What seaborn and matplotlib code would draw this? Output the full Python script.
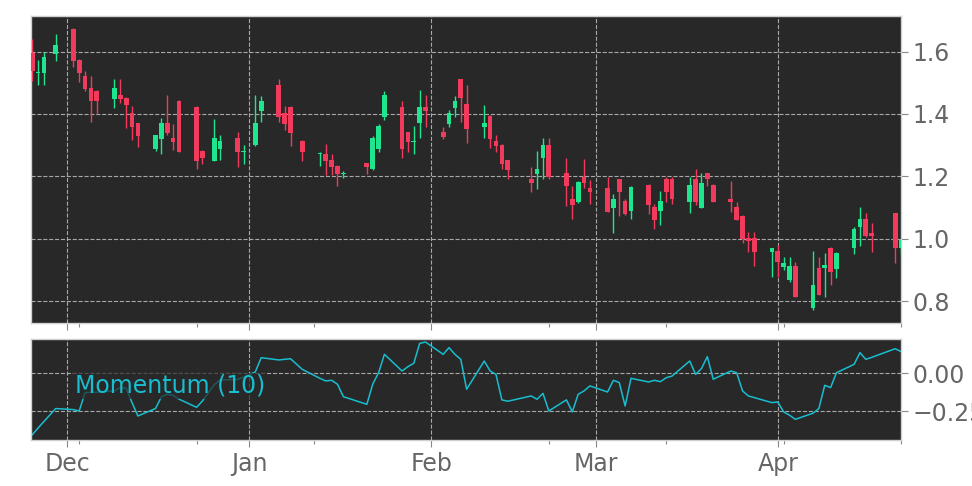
import matplotlib
matplotlib.use('Agg')
import matplotlib.pyplot as plt
import matplotlib.dates as mdates
import pandas as pd
import seaborn as sns

# trading days shown on the chart
dates = ['2013-11-25', '2013-11-26', '2013-11-27', '2013-11-29',
         '2013-12-02', '2013-12-03', '2013-12-04', '2013-12-05', '2013-12-06',
         '2013-12-09', '2013-12-10', '2013-12-11', '2013-12-12', '2013-12-13',
         '2013-12-16', '2013-12-17', '2013-12-18', '2013-12-19', '2013-12-20',
         '2013-12-23', '2013-12-24', '2013-12-26', '2013-12-27', '2013-12-30',
         '2013-12-31', '2014-01-02', '2014-01-03', '2014-01-06', '2014-01-07',
         '2014-01-08', '2014-01-10', '2014-01-13', '2014-01-14', '2014-01-15',
         '2014-01-16', '2014-01-17', '2014-01-21', '2014-01-22', '2014-01-23',
         '2014-01-24', '2014-01-27', '2014-01-28', '2014-01-29', '2014-01-30',
         '2014-01-31', '2014-02-03', '2014-02-04', '2014-02-05', '2014-02-06',
         '2014-02-07', '2014-02-10', '2014-02-11', '2014-02-12', '2014-02-13',
         '2014-02-14', '2014-02-18', '2014-02-19', '2014-02-20', '2014-02-21',
         '2014-02-24', '2014-02-25', '2014-02-26', '2014-02-27', '2014-02-28',
         '2014-03-03', '2014-03-04', '2014-03-05', '2014-03-06', '2014-03-07',
         '2014-03-10', '2014-03-11', '2014-03-12', '2014-03-13', '2014-03-14',
         '2014-03-17', '2014-03-18', '2014-03-19', '2014-03-20', '2014-03-21',
         '2014-03-24', '2014-03-25', '2014-03-26', '2014-03-27', '2014-03-28',
         '2014-03-31', '2014-04-01', '2014-04-02', '2014-04-03', '2014-04-04',
         '2014-04-07', '2014-04-08', '2014-04-09', '2014-04-10', '2014-04-11',
         '2014-04-14', '2014-04-15', '2014-04-16', '2014-04-17', '2014-04-21',
         '2014-04-22']

opens = [1.595, 1.530, 1.530, 1.591,
         1.673, 1.573, 1.523, 1.482, 1.475,
         1.448, 1.461, 1.451, 1.402, 1.370,
         1.287, 1.320, 1.371, 1.324, 1.443,
         1.422, 1.281, 1.249, 1.289, 1.324,
         1.279, 1.300, 1.411, 1.493, 1.402,
         1.422, 1.313, 1.271, 1.272, 1.251,
         1.233, 1.209, 1.242, 1.222, 1.289,
         1.391, 1.422, 1.341, 1.311, 1.370,
         1.422, 1.343, 1.368, 1.420, 1.511,
         1.431, 1.359, 1.394, 1.313, 1.301,
         1.252, 1.191, 1.207, 1.260, 1.301,
         1.210, 1.129, 1.119, 1.199, 1.162,
         1.162, 1.099, 1.190, 1.121, 1.089,
         1.172, 1.103, 1.089, 1.191, 1.191,
         1.119, 1.190, 1.099, 1.210, 1.172,
         1.129, 1.103, 1.073, 1.001, 1.001,
         0.958, 0.961, 0.908, 0.867, 0.912,
         0.779, 0.905, 0.905, 0.969, 0.902,
         0.969, 1.038, 1.062, 1.020, 1.081,
         0.969]

highs = [1.640, 1.573, 1.600, 1.657,
         1.675, 1.575, 1.539, 1.522, 1.477,
         1.511, 1.511, 1.453, 1.424, 1.372,
         1.333, 1.386, 1.461, 1.367, 1.445,
         1.424, 1.283, 1.383, 1.333, 1.343,
         1.300, 1.461, 1.458, 1.511, 1.424,
         1.424, 1.315, 1.279, 1.303, 1.272,
         1.235, 1.218, 1.244, 1.329, 1.368,
         1.474, 1.442, 1.343, 1.361, 1.477,
         1.461, 1.359, 1.413, 1.458, 1.513,
         1.493, 1.429, 1.396, 1.333, 1.303,
         1.254, 1.231, 1.281, 1.322, 1.322,
         1.258, 1.169, 1.186, 1.255, 1.188,
         1.199, 1.145, 1.192, 1.129, 1.170,
         1.174, 1.110, 1.153, 1.199, 1.199,
         1.199, 1.222, 1.210, 1.212, 1.174,
         1.185, 1.119, 1.075, 1.022, 1.022,
         0.970, 0.980, 0.942, 0.940, 0.926,
         0.961, 0.940, 0.953, 0.972, 0.958,
         1.038, 1.101, 1.081, 1.049, 1.083,
         1.001]

lows = [1.507, 1.493, 1.493, 1.571,
        1.552, 1.501, 1.472, 1.375, 1.402,
        1.420, 1.436, 1.356, 1.317, 1.295,
        1.281, 1.271, 1.333, 1.284, 1.277,
        1.222, 1.240, 1.249, 1.252, 1.231,
        1.239, 1.297, 1.375, 1.375, 1.349,
        1.297, 1.250, 1.234, 1.204, 1.204,
        1.170, 1.194, 1.207, 1.220, 1.279,
        1.381, 1.260, 1.279, 1.271, 1.322,
        1.359, 1.319, 1.359, 1.391, 1.375,
        1.308, 1.322, 1.290, 1.279, 1.222,
        1.190, 1.151, 1.159, 1.190, 1.190,
        1.105, 1.062, 1.116, 1.162, 1.111,
        1.087, 1.019, 1.073, 1.076, 1.062,
        1.079, 1.030, 1.044, 1.119, 1.110,
        1.081, 1.108, 1.099, 1.170, 1.117,
        1.087, 1.060, 0.985, 0.958, 0.912,
        0.876, 0.878, 0.900, 0.862, 0.812,
        0.773, 0.819, 0.812, 0.851, 0.873,
        0.950, 0.976, 1.006, 0.958, 0.921,
        0.950]

closes = [1.538, 1.533, 1.584, 1.621,
          1.571, 1.530, 1.480, 1.440, 1.440,
          1.482, 1.447, 1.429, 1.359, 1.329,
          1.333, 1.371, 1.338, 1.311, 1.277,
          1.249, 1.260, 1.324, 1.313, 1.277,
          1.281, 1.371, 1.442, 1.391, 1.368,
          1.340, 1.279, 1.273, 1.250, 1.230,
          1.207, 1.211, 1.231, 1.322, 1.361,
          1.461, 1.289, 1.311, 1.313, 1.421,
          1.411, 1.327, 1.402, 1.443, 1.450,
          1.351, 1.370, 1.320, 1.298, 1.240,
          1.220, 1.180, 1.222, 1.301, 1.199,
          1.170, 1.108, 1.183, 1.180, 1.151,
          1.087, 1.129, 1.151, 1.079, 1.167,
          1.108, 1.060, 1.121, 1.151, 1.129,
          1.172, 1.119, 1.180, 1.190, 1.119,
          1.119, 1.060, 0.998, 0.994, 0.958,
          0.969, 0.926, 0.921, 0.912, 0.812,
          0.851, 0.819, 0.916, 0.894, 0.955,
          1.030, 1.062, 1.009, 1.010, 0.969,
          0.996]

# Momentum (10)
momentum = [-0.405, -0.360, -0.317, -0.232,
            -0.239, -0.248, -0.127, -0.125, -0.125,
            -0.115, -0.094, -0.099, -0.193, -0.281,
            -0.232, -0.155, -0.138, -0.145, -0.170,
            -0.224, -0.182, -0.075, -0.044, -0.040,
            -0.025, 0.009, 0.103, 0.088, 0.092,
            0.096, 0.026, -0.033, -0.050, -0.046,
            -0.072, -0.154, -0.204, -0.072, 0.004,
            0.125, 0.015, 0.044, 0.066, 0.197,
            0.206, 0.125, 0.169, 0.125, 0.092,
            -0.105, 0.081, 0.015, -0.007, -0.175,
            -0.184, -0.149, -0.171, -0.132, -0.248,
            -0.175, -0.254, -0.138, -0.116, -0.083,
            -0.123, -0.046, -0.061, -0.215, -0.033,
            -0.057, -0.046, -0.055, -0.029, -0.018,
            0.081, -0.007, 0.031, 0.110, -0.039,
            0.015, 0.004, -0.116, -0.149, -0.160,
            -0.193, -0.189, -0.254, -0.276, -0.303,
            -0.263, -0.232, -0.079, -0.094, 0.004,
            0.059, 0.136, 0.092, 0.105, 0.162,
            0.143]

minor_ticks = ['2013-12-03', '2013-12-23', '2014-01-12', '2014-02-21',
               '2014-03-13', '2014-04-02', '2014-04-22']

df = pd.DataFrame({'date': pd.to_datetime(dates), 'open': opens, 'high': highs,
                   'low': lows, 'close': closes, 'momentum': momentum})

UP = '#1de68e'
DOWN = '#f23a5c'
BG = '#282828'
LINE = '#17becf'
TXT = '#666666'
FS = 17

sns.set_style('white')
plt.rcParams['font.family'] = ['DejaVu Sans']

fig = plt.figure(figsize=(9.72, 4.86), dpi=100)
ax1 = fig.add_axes([0.0319, 0.3354, 0.8951, 0.6317])
ax2 = fig.add_axes([0.0319, 0.0947, 0.8951, 0.2078], sharex=ax1)

# candles: wicks then bodies
up = df['close'] >= df['open']
for mask, col in ((up, UP), (~up, DOWN)):
    d = df[mask]
    ax1.vlines(d['date'], d['low'], d['high'], color=col, linewidth=1, zorder=3)
    body = (d['close'] - d['open']).abs().clip(lower=0.003)
    ax1.bar(d['date'], body, bottom=d[['open', 'close']].min(axis=1),
            width=0.8, color=col, linewidth=0, zorder=4)

# momentum line
sns.lineplot(x='date', y='momentum', data=df, ax=ax2, color=LINE, linewidth=1.1)
ax2.text(0.05, 0.535, 'Momentum (10)', transform=ax2.transAxes, color=LINE,
         fontsize=FS, va='center', ha='left', zorder=5,
         bbox=dict(facecolor=BG, alpha=0.7, edgecolor='none', pad=1))

for ax in (ax1, ax2):
    ax.set_facecolor(BG)
    ax.yaxis.tick_right()
    ax.set_xlabel('')
    ax.set_ylabel('')
    ax.xaxis.set_major_locator(mdates.MonthLocator())
    ax.xaxis.set_minor_locator(matplotlib.ticker.FixedLocator(
        mdates.date2num(pd.to_datetime(minor_ticks))))
    ax.xaxis.set_major_formatter(mdates.DateFormatter('%b'))
    ax.grid(True, which='major', color='#a8a8a8', linestyle='--', linewidth=0.8)
    ax.set_axisbelow(True)
    for s in ax.spines.values():
        s.set_color('#d0d0d0')
        s.set_linewidth(1)
    ax.tick_params(axis='both', which='major', colors='#888888', labelcolor=TXT,
                   labelsize=FS, length=5, width=0.8, direction='out',
                   bottom=True, right=True, left=False)
    ax.tick_params(axis='x', which='minor', colors='#888888', length=3, width=0.8,
                   bottom=True)

ax1.tick_params(labelbottom=False)
ax1.set_yticks([0.8, 1.0, 1.2, 1.4, 1.6])
ax1.set_ylim(0.73, 1.714)
ax2.set_yticks([-0.25, 0.0])
ax2.set_ylim(-0.439, 0.226)
ax1.set_xlim(pd.Timestamp('2013-11-24 19:00'), pd.Timestamp('2014-04-22'))

fig.savefig('out.png', dpi=100)
